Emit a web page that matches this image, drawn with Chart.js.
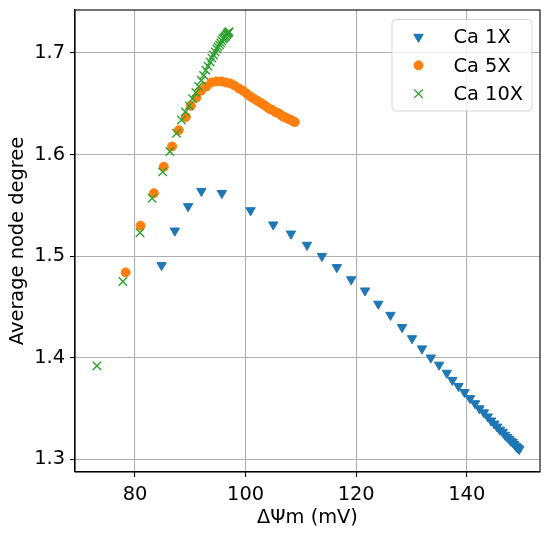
<!DOCTYPE html>
<html>
<head>
<meta charset="utf-8">
<script src="https://cdn.jsdelivr.net/npm/chart.js@4"></script>
<style>
  html, body { margin: 0; padding: 0; background: #fff; }
  canvas { display: block; }
</style>
</head>
<body>
<canvas id="chart" width="550" height="535"></canvas>
<script>
// values
const ca1xX = [84.8, 87.2, 89.6, 92.0, 95.7, 100.9, 105.0, 108.2, 111.1, 113.8, 116.5, 119.1, 121.6, 124.0, 126.2, 128.3, 130.1, 131.9, 133.5, 135.0, 136.4, 137.4, 138.5, 139.6, 140.6, 141.5, 142.3, 143.1, 143.8, 144.4, 145.0, 145.5, 146.0, 146.5, 146.9, 147.3, 147.7, 148.0, 148.3, 148.6, 148.9, 149.1, 149.3, 149.5];
const ca1xY = [1.491, 1.525, 1.549, 1.564, 1.562, 1.545, 1.531, 1.522, 1.511, 1.500, 1.489, 1.477, 1.466, 1.453, 1.442, 1.430, 1.419, 1.409, 1.400, 1.393, 1.385, 1.378, 1.372, 1.366, 1.360, 1.355, 1.350, 1.346, 1.342, 1.338, 1.335, 1.332, 1.329, 1.327, 1.324, 1.322, 1.320, 1.318, 1.317, 1.315, 1.313, 1.312, 1.311, 1.310];

const ca5xX = [78.3, 81.0, 83.4, 85.2, 86.7, 87.9, 89.2, 90.1, 91.1, 92.0, 92.9, 93.8, 94.7, 95.6, 96.4, 97.2, 98.0, 98.8, 99.5, 100.2, 100.9, 101.5, 102.1, 102.7, 103.3, 103.8, 104.3, 104.8, 105.3, 105.8, 106.2, 106.6, 107.0, 107.4, 107.8, 108.2, 108.5, 108.9];
const ca5xY = [1.484, 1.530, 1.562, 1.588, 1.608, 1.624, 1.637, 1.648, 1.656, 1.663, 1.667, 1.671, 1.672, 1.672, 1.671, 1.670, 1.668, 1.665, 1.663, 1.660, 1.657, 1.655, 1.653, 1.651, 1.649, 1.647, 1.645, 1.644, 1.642, 1.641, 1.640, 1.638, 1.637, 1.636, 1.635, 1.634, 1.633, 1.632];

const ca10xX = [73.1, 77.8, 80.9, 83.1, 85.0, 86.3, 87.5, 88.4, 89.1, 89.8, 90.4, 91.0, 91.5, 92.0, 92.4, 92.8, 93.2, 93.6, 93.9, 94.2, 94.5, 94.8, 95.0, 95.3, 95.5, 95.7, 95.9, 96.1, 96.3, 96.4, 96.6, 96.7, 96.8, 96.9, 97.0];
const ca10xY = [1.392, 1.475, 1.523, 1.557, 1.583, 1.603, 1.621, 1.634, 1.642, 1.648, 1.655, 1.661, 1.667, 1.673, 1.678, 1.683, 1.687, 1.691, 1.695, 1.698, 1.701, 1.704, 1.706, 1.708, 1.710, 1.712, 1.714, 1.715, 1.716, 1.717, 1.718, 1.719, 1.720, 1.720, 1.721];

const seriesLabels = ["Ca 1X", "Ca 5X", "Ca 10X"];
const xTicks = [80, 100, 120, 140];
const yTicks = [1.3, 1.4, 1.5, 1.6, 1.7];

const FONT = "DejaVu Sans";
const FS = 19.4;

function toPoints(xs, ys) {
    return xs.map((x, i) => ({ x: x, y: ys[i] }));
}

// axes box on all four sides, like matplotlib spines
const frameBox = {
    id: "frameBox",
    afterDatasetsDraw(chart) {
        const { ctx, chartArea: a } = chart;
        ctx.save();
        ctx.strokeStyle = "#000";
        ctx.lineWidth = 1.1;
        ctx.strokeRect(a.left, a.top, a.right - a.left, a.bottom - a.top);
        ctx.restore();
    }
};

// legend inside the plot, upper right, with a faint rounded frame
const boxLegend = {
    id: "boxLegend",
    afterDraw(chart) {
        const ctx = chart.ctx;
        const bx = 392, by = 19.5, bw = 140, bh = 91.5;
        ctx.save();
        ctx.beginPath();
        if (ctx.roundRect) {
            ctx.roundRect(bx, by, bw, bh, 4);
        } else {
            ctx.rect(bx, by, bw, bh);
        }
        ctx.fillStyle = "rgba(255,255,255,0.8)";
        ctx.fill();
        ctx.strokeStyle = "rgba(204,204,204,0.8)";
        ctx.lineWidth = 1;
        ctx.stroke();

        ctx.font = FS + "px '" + FONT + "'";
        ctx.textBaseline = "alphabetic";
        ctx.textAlign = "left";
        chart.data.datasets.forEach((ds, i) => {
            const cy = 37 + i * 28.35;
            ctx.fillStyle = ds.backgroundColor;
            ctx.strokeStyle = ds.borderColor;
            ctx.lineWidth = ds.borderWidth;
            if (Chart.helpers && Chart.helpers.drawPoint) {
                Chart.helpers.drawPoint(ctx, {
                    pointStyle: ds.pointStyle,
                    rotation: ds.pointRotation || 0,
                    radius: ds.pointRadius,
                    borderWidth: ds.borderWidth
                }, 418.5, cy);
            }
            ctx.fillStyle = "#000";
            ctx.fillText(ds.label, 453.5, cy + 6.3);
        });
        ctx.restore();
    }
};

const gridOpts = {
    color: "#b0b0b0",
    lineWidth: 1.1,
    tickColor: "#000",
    tickWidth: 1.1,
    tickLength: 5
};

new Chart(document.getElementById("chart").getContext("2d"), {
    type: "scatter",
    data: {
        datasets: [
            {
                label: seriesLabels[0],
                data: toPoints(ca1xX, ca1xY),
                pointStyle: "triangle",
                pointRotation: 180,
                pointRadius: 5.4,
                borderWidth: 1,
                backgroundColor: "#1f77b4",
                borderColor: "#1f77b4",
                order: 3
            },
            {
                label: seriesLabels[1],
                data: toPoints(ca5xX, ca5xY),
                pointStyle: "circle",
                pointRadius: 4.5,
                borderWidth: 1,
                backgroundColor: "#ff7f0e",
                borderColor: "#ff7f0e",
                order: 2
            },
            {
                label: seriesLabels[2],
                data: toPoints(ca10xX, ca10xY),
                pointStyle: "crossRot",
                pointRadius: 5.9,
                borderWidth: 1.4,
                backgroundColor: "#2ca02c",
                borderColor: "#2ca02c",
                order: 1
            }
        ]
    },
    options: {
        responsive: false,
        animation: false,
        devicePixelRatio: 1,
        layout: { padding: { top: 10, right: 10, left: 0, bottom: 0 } },
        plugins: {
            legend: { display: false },
            tooltip: { enabled: false }
        },
        scales: {
            x: {
                type: "linear",
                min: 69.14,
                max: 153.25,
                afterBuildTicks: (s) => { s.ticks = xTicks.map(v => ({ value: v })); },
                afterFit: (s) => { s.height = 63; s.paddingLeft = 0; s.paddingRight = 0; },
                grid: gridOpts,
                border: { display: true, color: "#000", width: 1.1 },
                ticks: { color: "#000", font: { family: FONT, size: FS }, padding: 6, maxRotation: 0, autoSkip: false },
                title: { display: true, text: "ΔΨm (mV)", color: "#000", font: { family: FONT, size: FS }, padding: { top: 0, bottom: 5 } }
            },
            y: {
                type: "linear",
                min: 1.2875,
                max: 1.7423,
                afterBuildTicks: (s) => { s.ticks = yTicks.map(v => ({ value: v })); },
                afterFit: (s) => { s.width = 75; s.paddingTop = 0; s.paddingBottom = 0; },
                grid: gridOpts,
                border: { display: true, color: "#000", width: 1.1 },
                ticks: { color: "#000", font: { family: FONT, size: FS }, padding: 5, autoSkip: false },
                title: { display: true, text: "Average node degree", color: "#000", font: { family: FONT, size: FS }, padding: { top: 6, bottom: 0 } }
            }
        }
    },
    plugins: [frameBox, boxLegend]
});
</script>
</body>
</html>
